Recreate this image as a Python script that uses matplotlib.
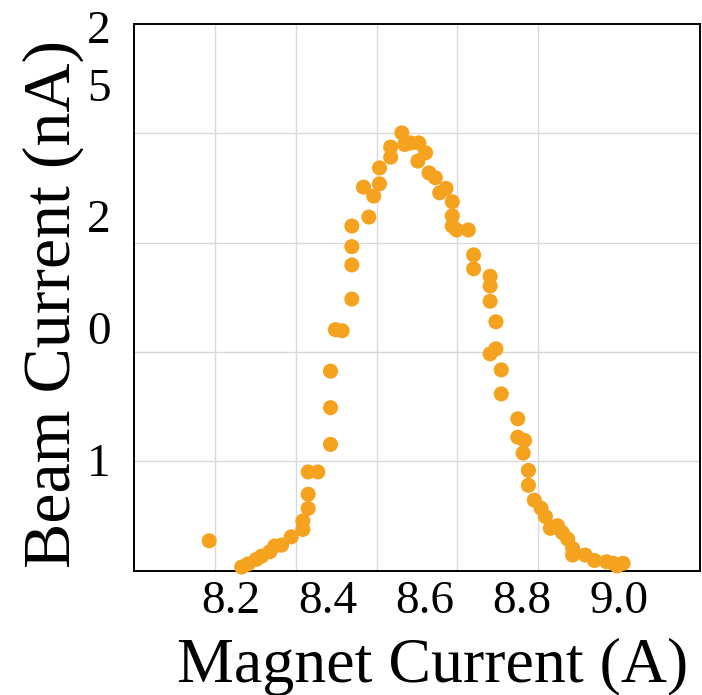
import matplotlib
matplotlib.use("Agg")
import matplotlib.pyplot as plt
import numpy as np

plt.rcParams['font.family'] = ['Liberation Serif', 'DejaVu Serif']

# magnet scan: magnet current (A) vs. beam current (nA)
magnet_current = [
    8.155, 8.222, 8.235, 8.252, 8.263, 8.280, 8.290, 8.304, 8.324, 8.348,
    8.348, 8.359, 8.359, 8.359, 8.379, 8.405, 8.405, 8.405, 8.415, 8.429,
    8.449, 8.449, 8.449, 8.449, 8.484, 8.494, 8.473, 8.506, 8.506, 8.529,
    8.529, 8.552, 8.558, 8.571, 8.587, 8.601, 8.585, 8.608, 8.621, 8.630,
    8.643, 8.656, 8.656, 8.656, 8.665, 8.689, 8.700, 8.700, 8.734, 8.734,
    8.734, 8.746, 8.746, 8.734, 8.757, 8.757, 8.791, 8.791, 8.805, 8.802,
    8.813, 8.813, 8.825, 8.839, 8.848, 8.858, 8.873, 8.883, 8.894, 8.904,
    8.904, 8.930, 8.949, 8.974, 8.988, 8.996, 9.008,
]
beam_current = [
    1.36, 0.16, 0.30, 0.51, 0.66, 0.86, 1.12, 1.16, 1.54, 1.88,
    2.27, 2.84, 3.49, 4.51, 4.51, 5.77, 7.45, 9.12, 11.02, 10.97,
    12.42, 13.98, 14.82, 15.76, 16.17, 17.13, 17.54, 17.69, 18.42, 18.91,
    19.37, 20.02, 19.49, 19.56, 19.56, 19.11, 18.73, 18.19, 17.97, 17.28,
    17.48, 16.87, 16.22, 15.76, 15.58, 15.58, 14.44, 13.80, 13.46, 13.02,
    12.32, 11.38, 10.14, 9.91, 9.18, 8.08, 6.94, 6.10, 5.95, 5.37,
    4.58, 3.90, 3.22, 2.85, 2.47, 1.93, 2.05, 1.73, 1.44, 1.01,
    0.71, 0.71, 0.46, 0.40, 0.33, 0.21, 0.33,
]

x_ticks = [8.2, 8.4, 8.6, 8.8, 9.0]
x_ticklabels = ['8.2', '8.4', '8.6', '8.8', '9.0']
y_ticklabels = ['1', '0', '2', '5', '2']

fig = plt.figure(figsize=(7.02, 6.95), dpi=100)
ax = fig.add_axes([0.1909, 0.1791, 0.8063, 0.7863])

ax.scatter(magnet_current, beam_current, s=118, color='#F5A31F',
           edgecolors='none', zorder=4, clip_on=False)

ax.set_xlim(8.0, 8.0 + 7 / 6)
ax.set_ylim(0, 25)

# grid on minor ticks, labels on major ticks
ax.set_xticks(8.0 + np.arange(1, 7) / 6, minor=True)
ax.set_yticks([5, 10, 15, 20], minor=True)
ax.grid(which='minor', color='#D9D9D9', linewidth=1.0)
ax.grid(which='major', visible=False)
ax.set_axisbelow(True)

ax.set_xticks(x_ticks)
ax.set_xticklabels(x_ticklabels)
ax.set_yticks([5.06, 11.10, 16.22, 22.21, 24.87])
ax.set_yticklabels(y_ticklabels)
ax.tick_params(which='both', length=0)
ax.tick_params(axis='x', labelsize=34, pad=7)
ax.tick_params(axis='y', labelsize=34, pad=17)

for sp in ax.spines.values():
    sp.set_linewidth(1.4)
    sp.set_color('black')

# axis titles placed in figure coordinates
fig.text(433 / 702, 1 - 682 / 695, 'Magnet Current (A)', fontsize=46,
         ha='center', va='baseline')
fig.text(53 / 702, 1 - 303.5 / 695, 'Beam Current (nA)', fontsize=49,
         rotation=90, ha='center', va='center')

fig.savefig('out.png', dpi=100)
